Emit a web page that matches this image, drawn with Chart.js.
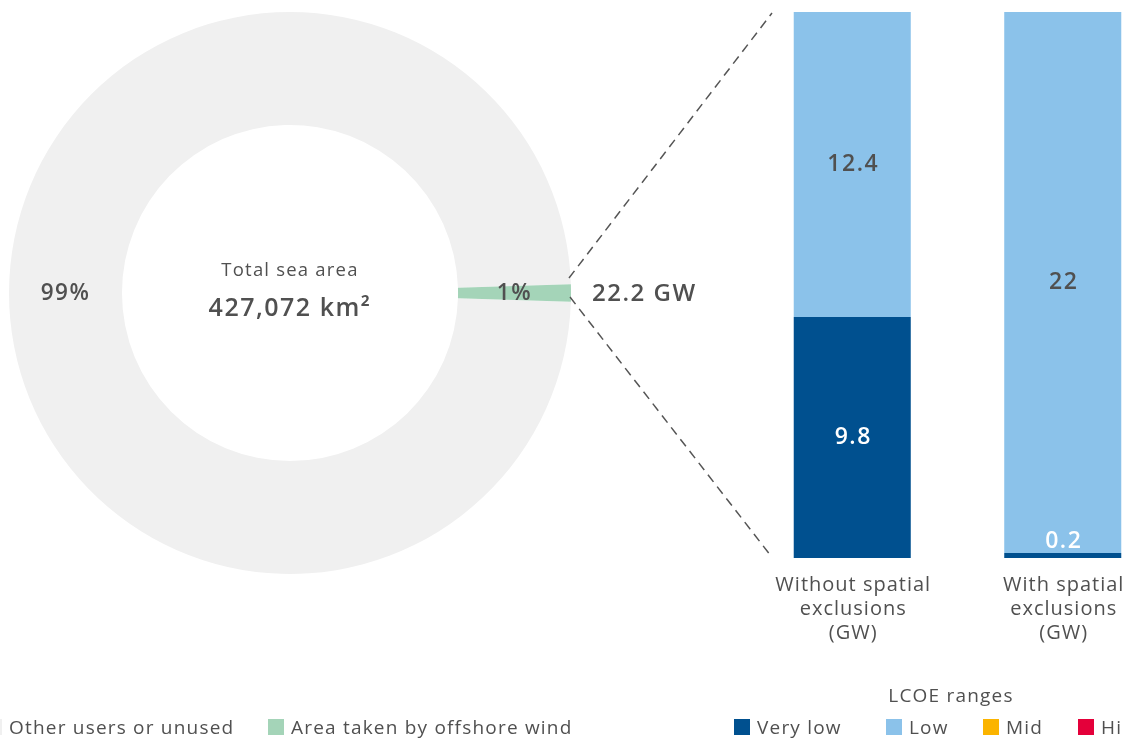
<!DOCTYPE html>
<html>
<head>
<meta charset="utf-8">
<script src="https://cdn.jsdelivr.net/npm/chart.js@4.4.0/dist/chart.umd.min.js"></script>
<style>
  html, body { margin: 0; padding: 0; width: 1122px; height: 742px; overflow: hidden; background: #fff; }
  body { position: relative; font-family: 'Open Sans', sans-serif; color: #505050; }
  #pie { position: absolute; left: 0; top: 0; }
  #bars { position: absolute; left: 747px; top: 0; }
  .lg { position: absolute; top: 716px; height: 22px; display: flex; align-items: center; white-space: nowrap; font-size: 19px; letter-spacing: 1.2px; }
  .lg span.box { display: inline-block; width: 16px; height: 16px; margin-right: 7px; }
  #lcoeTitle { position: absolute; left: 851px; width: 200px; top: 682px; text-align: center; font-size: 19px; letter-spacing: 1.2px; }
</style>
</head>
<body>
<canvas id="pie" width="1122" height="742"></canvas>
<canvas id="bars" width="421" height="742"></canvas>
<div id="lcoeTitle">LCOE ranges</div>
<div id="legends"></div>
<script>
    // Donut: share of the sea area
    const areaLabels = ['Other users or unused', 'Area taken by offshore wind'];
    const areaShare = [99, 1];
    const areaColors = ['#f0f0f0', '#a4d4b8'];
    const totalSeaArea = '427,072';
    const windCapacity = 22.2;

    // Bars: capacity by LCOE range (GW)
    const categories = [['Without spatial', 'exclusions', '(GW)'], ['With spatial', 'exclusions', '(GW)']];
    const lcoeRanges = ['Very low', 'Low', 'Mid', 'High'];
    const veryLow = [9.8, 0.2];
    const low = [12.4, 22];
    const mid = [0, 0];
    const high = [0, 0];
    const lcoeColors = ['#00508f', '#8bc2ea', '#fbb400', '#e4003a'];
    const valueColors = ['#ffffff', '#505050', '#505050', '#ffffff'];

    const FONT = "'Open Sans', sans-serif";
    const TEXT = '#505050';

    // Textos do donut + linhas tracejadas
    const donutText = {
        id: 'donutText',
        afterDatasetsDraw(chart) {
            const ctx = chart.ctx;
            const arcs = chart.getDatasetMeta(0).data;
            const cx = arcs[0].x, cy = arcs[0].y;
            const R = arcs[0].outerRadius;
            ctx.save();
            ctx.fillStyle = TEXT;
            ctx.textAlign = 'center';
            ctx.textBaseline = 'middle';
            ctx.letterSpacing = '1.5px';
            ctx.font = `600 22.5px ${FONT}`;
            arcs.forEach((arc, i) => {
                const p = arc.tooltipPosition();
                ctx.fillText(areaShare[i] + '%', p.x, p.y + 1);
            });
            ctx.letterSpacing = '1.2px';
            ctx.font = `18.5px ${FONT}`;
            ctx.fillText('Total sea area', cx, cy - 22);
            ctx.letterSpacing = '1.5px';
            ctx.font = `600 25px ${FONT}`;
            ctx.fillText(totalSeaArea + ' km²', cx, cy + 16);
            ctx.textAlign = 'left';
            ctx.font = `600 24px ${FONT}`;
            ctx.fillText(windCapacity + ' GW', cx + R + 21, cy + 1);

            // linhas tracejadas até a primeira barra
            ctx.strokeStyle = '#555';
            ctx.lineWidth = 1.5;
            ctx.setLineDash([9, 6]);
            ctx.beginPath();
            ctx.moveTo(cx + R - 2, cy - 15);
            ctx.lineTo(772, 13);
            ctx.moveTo(cx + R - 1, cy + 4);
            ctx.lineTo(771, 556);
            ctx.stroke();
            ctx.restore();
        }
    };

    new Chart(document.getElementById('pie'), {
        type: 'doughnut',
        data: {
            labels: areaLabels,
            datasets: [{
                data: areaShare,
                backgroundColor: areaColors,
                borderWidth: 0,
                hoverOffset: 0
            }]
        },
        options: {
            responsive: false,
            animation: false,
            rotation: 91.8,
            cutout: '59.8%',
            layout: { padding: { left: 9, top: 12, right: 551, bottom: 168 } },
            plugins: { legend: { display: false }, tooltip: { enabled: false } },
            events: []
        },
        plugins: [donutText]
    });

    // Valores dentro das barras + rótulos das categorias
    const barText = {
        id: 'barText',
        afterDatasetsDraw(chart) {
            const ctx = chart.ctx;
            const xScale = chart.scales.x;
            const area = chart.chartArea;
            ctx.save();
            ctx.textAlign = 'center';
            ctx.textBaseline = 'middle';
            ctx.letterSpacing = '1.5px';
            ctx.font = `600 23px ${FONT}`;
            chart.data.datasets.forEach((ds, d) => {
                chart.getDatasetMeta(d).data.forEach((bar, i) => {
                    const v = ds.data[i];
                    if (!v) return;
                    const h = bar.base - bar.y;
                    const y = h < 20 ? bar.y - 12 : (bar.y + bar.base) / 2;
                    ctx.fillStyle = valueColors[d];
                    ctx.fillText(String(v), bar.x + 1, y);
                });
            });
            ctx.fillStyle = TEXT;
            ctx.letterSpacing = '1px';
            ctx.font = `20px ${FONT}`;
            categories.forEach((lines, i) => {
                const x = xScale.getPixelForValue(i);
                lines.forEach((t, j) => ctx.fillText(t, x + 1, area.bottom + 27 + j * 24));
            });
            ctx.restore();
        }
    };

    const seriesData = [veryLow, low, mid, high];
    new Chart(document.getElementById('bars'), {
        type: 'bar',
        data: {
            labels: categories,
            datasets: lcoeRanges.map((name, i) => ({
                label: name,
                data: seriesData[i],
                backgroundColor: lcoeColors[i],
                borderWidth: 0,
                barPercentage: 0.556,
                categoryPercentage: 1
            }))
        },
        options: {
            responsive: false,
            animation: false,
            layout: { padding: { left: 0, right: 0, top: 12, bottom: 184 } },
            scales: {
                x: { stacked: true, display: false },
                y: { stacked: true, display: false, min: 0, max: 22.2 }
            },
            plugins: { legend: { display: false }, tooltip: { enabled: false } },
            events: []
        },
        plugins: [barText]
    });

    // Legendas em HTML
    const legends = document.getElementById('legends');
    const legendItems = [
        ...areaLabels.map((t, i) => ({ text: t, color: areaColors[i] })),
        ...lcoeRanges.map((t, i) => ({ text: t, color: lcoeColors[i] }))
    ];
    const legendX = [-14, 268, 734, 886, 983, 1078];
    legendItems.forEach((item, i) => {
        const div = document.createElement('div');
        div.className = 'lg';
        div.style.left = legendX[i] + 'px';
        div.innerHTML = `<span class="box" style="background:${item.color}"></span>${item.text}`;
        legends.appendChild(div);
    });
</script>
</body>
</html>
